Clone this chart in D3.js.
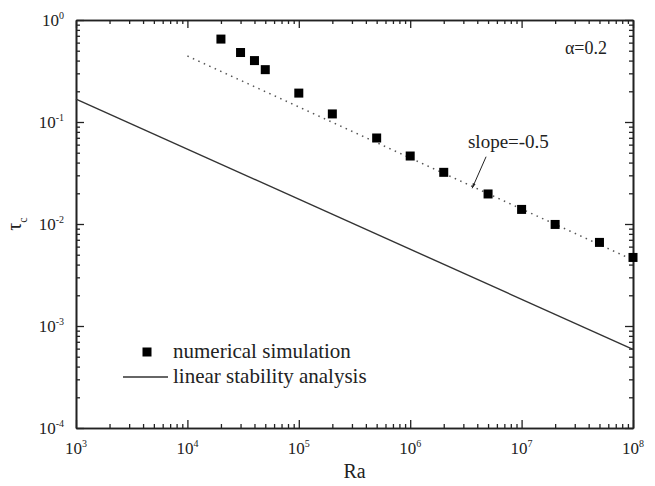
<!DOCTYPE html>
<html>
<head>
<meta charset="utf-8">
<script src="https://cdn.jsdelivr.net/npm/d3@7"></script>
<style>
  body { margin: 0; background: #fff; }
  text { font-family: "Liberation Serif", "Times New Roman", serif; fill: #222; }
</style>
</head>
<body>
<div id="chart"></div>
<script>
// numerical simulation points
var raSim = [2e4, 3e4, 4e4, 5e4, 1e5, 2e5, 5e5, 1e6, 2e6, 5e6, 1e7, 2e7, 5e7, 1e8];
var tauSim = [0.65, 0.48, 0.40, 0.326, 0.192, 0.12, 0.0697, 0.0464, 0.0321, 0.0197, 0.0139, 0.0099, 0.0066, 0.0047];

// linear stability analysis line
var raLin = [1e3, 1e8];
var tauLin = [0.168, 0.00059];

// slope -0.5 guide
var raFit = [1e4, 1e8];
var tauFit = [0.444, 0.00444];

var xTickExp = [3, 4, 5, 6, 7, 8];
var yTickExp = [0, -1, -2, -3, -4];

var svgWidth = 655;
var svgHeight = 486;
var margin = { top: 20, right: 22, bottom: 58, left: 76 };
var width = svgWidth - margin.left - margin.right;
var height = svgHeight - margin.top - margin.bottom;

var svg = d3.select("#chart")
  .append("svg")
  .attr("width", svgWidth)
  .attr("height", svgHeight);

var chartGroup = svg.append("g")
  .attr("transform", `translate(${margin.left}, ${margin.top})`);

var x = d3.scaleLog().domain([1e3, 1e8]).range([0, width]);
var y = d3.scaleLog().domain([1e-4, 1]).range([height, 0]);

var xMajor = xTickExp.map(e => Math.pow(10, e));
var yMajor = yTickExp.map(e => Math.pow(10, e));
var xMinor = [], yMinor = [];
for (var e = 3; e < 8; e++) for (var k = 2; k <= 9; k++) xMinor.push(k * Math.pow(10, e));
for (var e = -4; e < 0; e++) for (var k = 2; k <= 9; k++) yMinor.push(k * Math.pow(10, e));

function styleAxis(g) {
  g.selectAll("path.domain").attr("stroke", "#222").attr("stroke-width", 1.6);
  g.selectAll(".tick line").attr("stroke", "#222").attr("stroke-width", 1.3);
}

// bottom
chartGroup.append("g").attr("transform", `translate(0, ${height})`)
  .call(d3.axisBottom(x).tickValues(xMajor).tickSize(-8).tickSizeOuter(0).tickFormat(""))
  .call(styleAxis);
chartGroup.append("g").attr("transform", `translate(0, ${height})`)
  .call(d3.axisBottom(x).tickValues(xMinor).tickSize(-4).tickSizeOuter(0).tickFormat(""))
  .call(styleAxis);
// top
chartGroup.append("g")
  .call(d3.axisTop(x).tickValues(xMajor).tickSize(-8).tickSizeOuter(0).tickFormat(""))
  .call(styleAxis);
chartGroup.append("g")
  .call(d3.axisTop(x).tickValues(xMinor).tickSize(-4).tickSizeOuter(0).tickFormat(""))
  .call(styleAxis);
// left
chartGroup.append("g")
  .call(d3.axisLeft(y).tickValues(yMajor).tickSize(-8).tickSizeOuter(0).tickFormat(""))
  .call(styleAxis);
chartGroup.append("g")
  .call(d3.axisLeft(y).tickValues(yMinor).tickSize(-4).tickSizeOuter(0).tickFormat(""))
  .call(styleAxis);
// right
chartGroup.append("g").attr("transform", `translate(${width}, 0)`)
  .call(d3.axisRight(y).tickValues(yMajor).tickSize(-8).tickSizeOuter(0).tickFormat(""))
  .call(styleAxis);
chartGroup.append("g").attr("transform", `translate(${width}, 0)`)
  .call(d3.axisRight(y).tickValues(yMinor).tickSize(-4).tickSizeOuter(0).tickFormat(""))
  .call(styleAxis);

// tick labels with superscripts
xTickExp.forEach(function(e) {
  var t = chartGroup.append("text")
    .attr("x", x(Math.pow(10, e)))
    .attr("y", height + 26)
    .attr("text-anchor", "middle")
    .style("font-size", "17px");
  t.append("tspan").text("10");
  t.append("tspan").attr("dy", -7).style("font-size", "10px").text(e);
});
yTickExp.forEach(function(e) {
  var t = chartGroup.append("text")
    .attr("x", -12)
    .attr("y", y(Math.pow(10, e)) + 6)
    .attr("text-anchor", "end")
    .style("font-size", "17px");
  t.append("tspan").text("10");
  t.append("tspan").attr("dy", -7).style("font-size", "10px").text(e);
});

// lines
var line = d3.line().x(d => x(d[0])).y(d => y(d[1]));

chartGroup.append("path")
  .datum(d3.zip(raLin, tauLin))
  .attr("d", line)
  .attr("fill", "none")
  .attr("stroke", "#333")
  .attr("stroke-width", 1.4);

chartGroup.append("path")
  .datum(d3.zip(raFit, tauFit))
  .attr("d", line)
  .attr("fill", "none")
  .attr("stroke", "#555")
  .attr("stroke-width", 1.5)
  .attr("stroke-dasharray", "1.5,4.5");

// squares
var sq = 9;
chartGroup.selectAll("rect.sim")
  .data(d3.zip(raSim, tauSim))
  .enter()
  .append("rect")
  .attr("class", "sim")
  .attr("x", d => x(d[0]) - sq / 2)
  .attr("y", d => y(d[1]) - sq / 2)
  .attr("width", sq)
  .attr("height", sq)
  .attr("fill", "#000");

// annotations
svg.append("defs").append("marker")
  .attr("id", "arrow")
  .attr("viewBox", "0 0 10 10")
  .attr("refX", 10).attr("refY", 5)
  .attr("markerWidth", 7).attr("markerHeight", 5)
  .attr("markerUnits", "userSpaceOnUse")
  .attr("orient", "auto")
  .append("path").attr("d", "M0,2 L10,5 L0,8 Z").attr("fill", "#222");

chartGroup.append("text")
  .attr("x", x(3.3e6))
  .attr("y", y(0.0556))
  .style("font-size", "19px")
  .text("slope=-0.5");

chartGroup.append("line")
  .attr("x1", x(4.8e6)).attr("y1", y(0.0457))
  .attr("x2", x(3.6e6)).attr("y2", y(0.0224))
  .attr("stroke", "#222")
  .attr("stroke-width", 1)
  .attr("marker-end", "url(#arrow)");

chartGroup.append("text")
  .attr("x", x(2.45e7))
  .attr("y", y(0.464))
  .style("font-size", "18px")
  .text("α=0.2");

// legend
var legend = chartGroup.append("g").attr("transform", "translate(47, 332)");
legend.append("rect")
  .attr("x", 24 - sq / 2).attr("y", -sq / 2)
  .attr("width", sq).attr("height", sq)
  .attr("fill", "#000");
legend.append("text")
  .attr("x", 50).attr("y", 6)
  .style("font-size", "21px")
  .text("numerical simulation");
legend.append("line")
  .attr("x1", 0).attr("x2", 45)
  .attr("y1", 25).attr("y2", 25)
  .attr("stroke", "#333")
  .attr("stroke-width", 1.4);
legend.append("text")
  .attr("x", 50).attr("y", 31)
  .style("font-size", "21px")
  .text("linear stability analysis");

// axis titles
chartGroup.append("text")
  .attr("x", width / 2)
  .attr("y", height + 50)
  .attr("text-anchor", "middle")
  .style("font-size", "20px")
  .text("Ra");

var yt = chartGroup.append("text")
  .attr("transform", `translate(${-55}, ${height / 2}) rotate(-90)`)
  .attr("text-anchor", "middle")
  .style("font-size", "20px");
yt.append("tspan").text("τ");
yt.append("tspan").attr("dy", 6).style("font-size", "12px").text("c");
</script>
</body>
</html>
